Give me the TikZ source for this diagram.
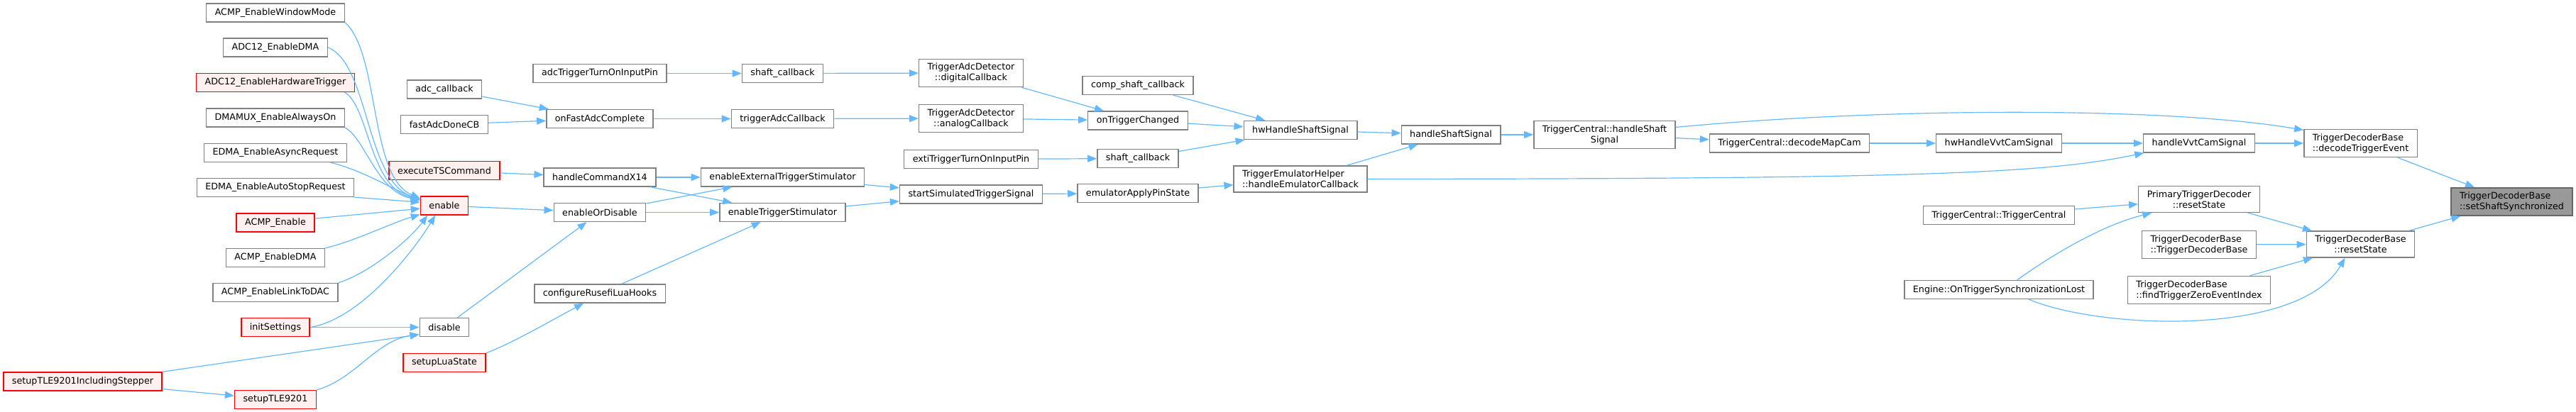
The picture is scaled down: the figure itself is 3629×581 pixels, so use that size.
\documentclass[tikz,border=0pt]{standalone}
\usepackage{fontspec}
\setmainfont{DejaVu Sans}
\usepackage{tikz}
\usetikzlibrary{arrows.meta}

\definecolor{edgeblue}{HTML}{63B8FF}
\definecolor{boxline}{HTML}{808080}
\definecolor{redfill}{HTML}{FFF0F0}
\definecolor{rootfill}{HTML}{999999}
\definecolor{rootline}{HTML}{666666}

\begin{document}
\begin{tikzpicture}[
            x = 0.5pt, y = -0.5pt, % one unit per layout pixel, y grows downwards
            > = {Triangle[length=6.5pt, width=5pt]}, % arrow head style
            call/.style = {->, edgeblue, line width = 0.6pt}, % caller edge
            font = \fontsize{6.36}{7.5}\selectfont
        ]

        \tikzstyle{fn}=[
            draw = boxline,
            line width = 0.7pt,
            fill = white,
            inner xsep = 6pt,
            inner ysep = 3pt,
            minimum height = 13pt,
            align = center
        ]
        \tikzstyle{fnred}=[fn, draw = red, fill = redfill]
        \tikzstyle{fnroot}=[fn, draw = rootline, fill = rootfill]

        \useasboundingbox (0,0) rectangle (3629,581);

        % first column
        \node[fn] (wm) at (388,18) {ACMP\_EnableWindowMode};
        \node[fn] (adcdma) at (388,67) {ADC12\_EnableDMA};
        \node[fnred] (adchw) at (388,116.5) {ADC12\_EnableHardwareTrigger};
        \node[fn] (dmamux) at (388,166) {DMAMUX\_EnableAlwaysOn};
        \node[fn] (edmaasync) at (388,215.5) {EDMA\_EnableAsyncRequest};
        \node[fn] (edmaauto) at (388,264.5) {EDMA\_EnableAutoStopRequest};
        \node[fnred] (acmpen) at (388,314) {ACMP\_Enable};
        \node[fn] (acmpdma) at (388,363.5) {ACMP\_EnableDMA};
        \node[fn] (acmpdac) at (388,412.5) {ACMP\_EnableLinkToDAC};
        \node[fnred] (initset) at (388,461.5) {initSettings};
        \node[fnred] (tlestep) at (116.5,538) {setupTLE9201IncludingStepper};
        \node[fnred] (tle) at (388,563.5) {setupTLE9201};

        % second column
        \node[fn] (adccb) at (626,126) {adc\_callback};
        \node[fn] (fastadc) at (626,175.5) {fastAdcDoneCB};
        \node[fnred] (exects) at (626,240.5) {executeTSCommand};
        \node[fnred] (enable) at (626,290) {enable};
        \node[fn] (disable) at (626,461.5) {disable};
        \node[fnred] (lua) at (626,511.5) {setupLuaState};

        \node[fn] (adcpin) at (845,103.5) {adcTriggerTurnOnInputPin};
        \node[fn] (onfast) at (845,167.5) {onFastAdcComplete};
        \node[fn] (x14) at (845,250) {handleCommandX14};
        \node[fn] (enordis) at (845,299.5) {enableOrDisable};
        \node[fn] (luahooks) at (845,414) {configureRusefiLuaHooks};

        \node[fn] (shaftcbA) at (1102.5,103.5) {shaft\_callback};
        \node[fn] (trigadc) at (1102.5,167.5) {triggerAdcCallback};
        \node[fn] (extstim) at (1102.5,250) {enableExternalTriggerStimulator};
        \node[fn] (trigstim) at (1102.5,299.5) {enableTriggerStimulator};

        \node[fn] (digcb) at (1368,103) {TriggerAdcDetector\\::digitalCallback};
        \node[fn] (anacb) at (1368,167) {TriggerAdcDetector\\::analogCallback};
        \node[fn] (extipin) at (1368,224.5) {extiTriggerTurnOnInputPin};
        \node[fn] (startsim) at (1368,274) {startSimulatedTriggerSignal};

        \node[fn] (compcb) at (1603,120.5) {comp\_shaft\_callback};
        \node[fn] (ontrig) at (1603,170) {onTriggerChanged};
        \node[fn] (shaftcbB) at (1603,223.5) {shaft\_callback};
        \node[fn] (emupin) at (1603,272.5) {emulatorApplyPinState};

        \node[fn] (hwshaft) at (1832,183.5) {hwHandleShaftSignal};
        \node[fn, align = left] (emuhelp) at (1832,252.5) {TriggerEmulatorHelper\\::handleEmulatorCallback};

        \node[fn] (hshaft) at (2044,190) {handleShaftSignal};
        \node[fn] (tcshaft) at (2260.5,190) {TriggerCentral::handleShaft\\Signal};
        \node[fn] (mapcam) at (2521,202) {TriggerCentral::decodeMapCam};

        \node[fn] (hwvvt) at (2816,202) {hwHandleVvtCamSignal};
        \node[fn] (tcctor) at (2816,303.5) {TriggerCentral::TriggerCentral};
        \node[fn] (synclost) at (2816,408.5) {Engine::OnTriggerSynchronizationLost};

        \node[fn] (hvvt) at (3098,202) {handleVvtCamSignal};
        \node[fn] (primreset) at (3098,281) {PrimaryTriggerDecoder\\::resetState};
        \node[fn, align = left] (tdbctor) at (3098,345) {TriggerDecoderBase\\::TriggerDecoderBase};
        \node[fn, align = left] (findzero) at (3098,409) {TriggerDecoderBase\\::findTriggerZeroEventIndex};

        \node[fn, align = left] (decode) at (3325.5,202) {TriggerDecoderBase\\::decodeTriggerEvent};
        \node[fn] (reset) at (3325.5,344.5) {TriggerDecoderBase\\::resetState};

        \node[fnroot, align = left] (setsync) at (3538.5,284.5) {TriggerDecoderBase\\::setShaftSynchronized};

        % callers of enable
        \draw[call] (wm.south east) .. controls (535,75) and (520,250) .. (enable.163);
        \draw[call] (adcdma.east) .. controls (520,90) and (515,255) .. (enable.165);
        \draw[call] (adchw.352) .. controls (520,150) and (520,265) .. (enable.166);
        \draw[call] (dmamux.352) .. controls (515,195) and (530,270) .. (enable.167);
        \draw[call] (edmaasync.350) .. controls (510,240) and (550,265) .. (enable.168);
        \draw[call] (edmaauto.south east) -- (enable.172);
        \draw[call] (acmpen.6) -- (enable.187);
        \draw[call] (acmpdma.north east) .. controls (500,340) and (550,315) .. (enable.200);
        \draw[call] (acmpdac.north east) .. controls (520,385) and (575,340) .. (enable.210);
        \draw[call] (initset.east) .. controls (510,450) and (585,350) .. (enable.227);

        % callers of disable
        \path[call] (initset) edge (disable);
        \draw[call] (tlestep.north east) -- (disable.196);
        \path[call] (tlestep) edge (tle);
        \draw[call] (tle.north east) .. controls (500,535) and (530,480) .. (disable.196);

        \draw[call] (lua.north east) .. controls (720,485) and (780,450) .. (luahooks.211);

        \path[call] (adccb) edge (onfast);
        \path[call] (fastadc) edge (onfast);
        \path[call] (exects) edge (x14);
        \path[call] (enable) edge (enordis);
        \path[call] (disable) edge (enordis);

        \path[call] (adcpin) edge (shaftcbA);
        \path[call] (onfast) edge (trigadc);
        \path[call] (x14) edge (extstim);
        \path[call] (x14) edge (trigstim);
        \path[call] (enordis) edge (extstim);
        \path[call] (enordis) edge (trigstim);
        \path[call] (luahooks) edge (trigstim);

        \path[call] (shaftcbA) edge (digcb);
        \path[call] (trigadc) edge (anacb);
        \path[call] (extstim) edge (startsim);
        \path[call] (trigstim) edge (startsim);

        \path[call] (digcb) edge (ontrig);
        \path[call] (anacb) edge (ontrig);
        \path[call] (extipin) edge (shaftcbB);
        \path[call] (startsim) edge (emupin);

        \path[call] (compcb) edge (hwshaft);
        \path[call] (ontrig) edge (hwshaft);
        \path[call] (shaftcbB) edge (hwshaft);
        \path[call] (emupin) edge (emuhelp);

        \path[call] (hwshaft) edge (hshaft);
        \path[call] (emuhelp) edge (hshaft);
        \path[call] (hshaft) edge (tcshaft);
        \path[call] (tcshaft) edge (mapcam);
        \path[call] (mapcam) edge (hwvvt);
        \path[call] (hwvvt) edge (hvvt);
        \path[call] (hvvt) edge (decode);

        % long edges
        \draw[call] (emuhelp.east) .. controls (2700,252) and (2880,245) .. (hvvt.190);
        \draw[call] (tcshaft.6) .. controls (2650,152) and (3050,150) .. (decode.167);

        \path[call] (tcctor) edge (primreset);
        \draw[call] (synclost.28) .. controls (2890,360) and (2960,318) .. (primreset.196);
        \draw[call] (synclost.342) .. controls (2960,465) and (3240,475) .. (reset.221);
        \path[call] (primreset) edge (reset);
        \path[call] (tdbctor) edge (reset);
        \path[call] (findzero) edge (reset);

        \path[call] (decode) edge (setsync);
        \path[call] (reset) edge (setsync);

  \end{tikzpicture}
\end{document}
